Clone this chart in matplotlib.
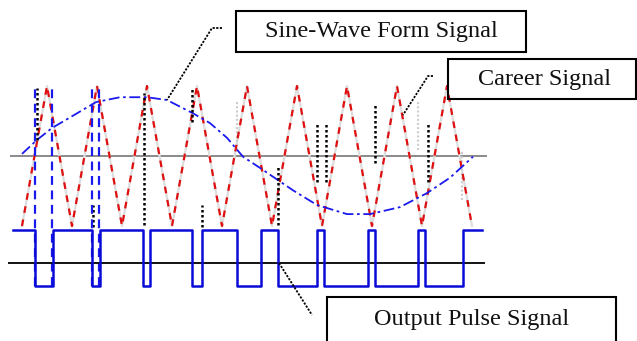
import matplotlib
matplotlib.use("Agg")
import matplotlib.pyplot as plt
from matplotlib.patches import Rectangle
from matplotlib.lines import Line2D

# carrier (triangle) vertices, time in carrier periods
carrier_t = [0, 0.5, 1, 1.5, 2, 2.5, 3, 3.5, 4, 4.5, 5, 5.5, 6, 6.5, 7, 7.5, 8, 8.5, 9]
carrier_v = [-1, 1, -1, 1, -1, 1, -1, 1, -1, 1, -1, 1, -1, 1, -1, 1, -1, 1, -1]

# reference sine wave
sine_t = [0, 0.3, 0.6, 1.1, 1.48, 1.96, 2.5, 2.9, 3.42, 3.76, 4.1, 4.42,
          4.76, 5.42, 5.9, 6.5, 6.96, 7.56, 8.1, 8.56, 9.02]
sine_v = [0.03, 0.23, 0.40, 0.61, 0.77, 0.84, 0.84, 0.80, 0.61, 0.47, 0.26, -0.01,
          -0.17, -0.49, -0.70, -0.83, -0.83, -0.73, -0.53, -0.31, -0.01]

# output pulse: switching instants and state after each switch
pulse_t = [-0.18, 0.26, 0.62, 1.40, 1.56, 2.42, 2.56, 3.40, 3.60, 4.30, 4.78,
           5.12, 5.90, 6.04, 6.92, 7.06, 7.92, 8.06, 8.82, 9.20]
pulse_s = [1, 0, 1, 0, 1, 0, 1, 0, 1, 0, 1, 0, 1, 0, 1, 0, 1, 0, 1, 1]

# blue dashed guides at the first crossings
guide_t = [0.26, 0.60, 1.40, 1.54]

# dotted crossing markers (time, top, bottom)
mark_t = [0.30, 1.42, 2.44, 3.40, 3.60, 5.12, 5.90, 6.08, 7.06, 8.12]
mark_top = [0.97, -0.70, 0.90, 0.97, -0.70, -0.16, 0.49, 0.49, 0.76, 0.49]
mark_bot = [0.23, -1.01, -0.99, 0.49, -1.01, -0.99, -0.37, -0.37, -0.10, -0.37]
faint_t = [4.30, 7.92, 8.80]
faint_top = [0.80, 0.80, 0.09]
faint_bot = [0.09, 0.09, -0.63]

labels = ["Sine-Wave Form Signal", "Career Signal", "Output Pulse Signal"]

# layout
W, H = 637, 341
PULSE_HI, PULSE_LO, PULSE_AXIS = -1.06, -1.86, -1.53

fig = plt.figure(figsize=(W / 100, H / 100), dpi=100)
ax = fig.add_axes([0, 0, 1, 1])
ax.set_xlim(-0.44, 12.3)
ax.set_ylim(-2.643, 2.229)
ax.axis("off")

# axis lines
ax.hlines(0, -0.24, 9.3, color="#777777", lw=1.2, zorder=1)
ax.hlines(PULSE_AXIS, -0.28, 9.26, color="black", lw=1.3, zorder=4)

# carrier: light grey under red dashes
ax.plot(carrier_t, carrier_v, color="#dddddd", lw=1.6, zorder=2)
ax.plot(carrier_t, carrier_v, color="#e01010", lw=1.6, dashes=(3, 3), zorder=3)

# sine
ax.plot(sine_t, sine_v, color="#1a1aee", lw=1.3, dashes=(6, 2, 1.5, 2), zorder=3)

# dotted markers
ax.vlines(mark_t, mark_bot, mark_top, color="black", lw=1.8, linestyles=(0, (1, 1)), zorder=3)
ax.vlines(faint_t, faint_bot, faint_top, color="#cccccc", lw=1.5, linestyles=(0, (1, 1)), zorder=2)

# blue dashed guides
ax.vlines(guide_t, PULSE_LO, 0.97, color="#1a1aee", lw=1.6, linestyles=(0, (4, 2.5)), zorder=3)

# pulse
levels = [PULSE_HI if s else PULSE_LO for s in pulse_s]
ax.step(pulse_t, levels, where="post", color="#0a0ad8", lw=1.8, zorder=5)


def fx(x, y):
    return x / W, 1 - y / H


def box(x0, y0, x1, y1, text, tx, ty):
    a = fx(x0, y1)
    fig.patches.append(Rectangle(a, (x1 - x0) / W, (y1 - y0) / H, transform=fig.transFigure,
                                 fill=False, ec="black", lw=1.5))
    fig.text(*fx(tx, ty), text, ha="center", va="center", fontsize=17.5,
             family="Liberation Serif", color="#111111")


def leader(pts):
    xs = [p[0] / W for p in pts]
    ys = [1 - p[1] / H for p in pts]
    fig.lines.append(Line2D(xs, ys, transform=fig.transFigure, color="black",
                            lw=1.3, linestyle=(0, (1.2, 0.8))))


box(236, 11, 526, 52, labels[0], 381, 32)
box(448, 59, 636, 99, labels[1], 544, 80)
box(327, 297, 616, 345, labels[2], 472, 319)

leader([(222, 28), (212, 28), (167, 100)])
leader([(433, 76), (428, 76), (403, 115)])
leader([(279, 263), (312, 315)])

fig.savefig("out.png", dpi=100)
